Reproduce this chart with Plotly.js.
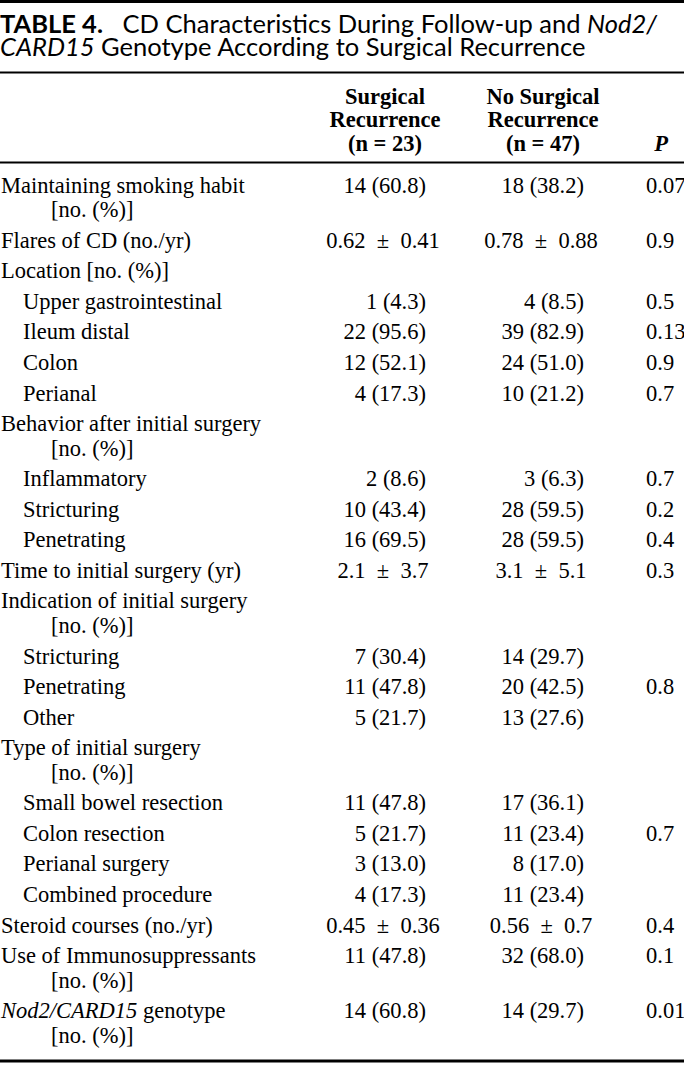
<!DOCTYPE html>
<html>
<head>
<meta charset="utf-8">
<script src="https://cdn.plot.ly/plotly-3.0.1.min.js"></script>
<style>html,body{margin:0;padding:0;background:#fff;}#chart{width:684px;height:1065px;}</style>
</head>
<body>
<div id="chart"></div>
<script>
// ---- table content ----
const titleLines = [
  "<b>TABLE 4.</b>\u00A0\u00A0\u00A0CD Characteristics During Follow-up and <i>Nod2/</i>",
  "<i>CARD15</i> Genotype According to Surgical Recurrence"
];
const headSurgical = ["<b>Surgical</b>", "<b>Recurrence</b>", "<b>(n = 23)</b>"];
const headNoSurgical = ["<b>No Surgical</b>", "<b>Recurrence</b>", "<b>(n = 47)</b>"];
const headP = ["", "", "<b><i>P</i></b>"];

const rowLabels = [
  "Maintaining smoking habit",
  "Flares of CD (no./yr)",
  "Location [no. (%)]",
  "Upper gastrointestinal",
  "Ileum distal",
  "Colon",
  "Perianal",
  "Behavior after initial surgery",
  "Inflammatory",
  "Stricturing",
  "Penetrating",
  "Time to initial surgery (yr)",
  "Indication of initial surgery",
  "Stricturing",
  "Penetrating",
  "Other",
  "Type of initial surgery",
  "Small bowel resection",
  "Colon resection",
  "Perianal surgery",
  "Combined procedure",
  "Steroid courses (no./yr)",
  "Use of Immunosuppressants",
  "<i>Nod2/CARD15</i> genotype"
];
const rowNotes = [
  "[no. (%)]", "", "", "", "", "", "", "[no. (%)]", "", "", "", "",
  "[no. (%)]", "", "", "", "[no. (%)]", "", "", "", "", "", "[no. (%)]", "[no. (%)]"
];
const rowIndent = [0,0,0,1,1,1,1,0,1,1,1,0,0,1,1,1,0,1,1,1,1,0,0,0];
const surgical = [
  "14 (60.8)", "0.62 ± 0.41", "", "1 (4.3)", "22 (95.6)", "12 (52.1)", "4 (17.3)", "",
  "2 (8.6)", "10 (43.4)", "16 (69.5)", "2.1 ± 3.7", "", "7 (30.4)", "11 (47.8)", "5 (21.7)",
  "", "11 (47.8)", "5 (21.7)", "3 (13.0)", "4 (17.3)", "0.45 ± 0.36", "11 (47.8)", "14 (60.8)"
];
const noSurgical = [
  "18 (38.2)", "0.78 ± 0.88", "", "4 (8.5)", "39 (82.9)", "24 (51.0)", "10 (21.2)", "",
  "3 (6.3)", "28 (59.5)", "28 (59.5)", "3.1 ± 5.1", "", "14 (29.7)", "20 (42.5)", "13 (27.6)",
  "", "17 (36.1)", "11 (23.4)", "8 (17.0)", "11 (23.4)", "0.56 ± 0.7", "32 (68.0)", "14 (29.7)"
];
const pValues = [
  "0.07", "0.9", "", "0.5", "0.13", "0.9", "0.7", "",
  "0.7", "0.2", "0.4", "0.3", "", "", "0.8", "",
  "", "", "0.7", "", "", "0.4", "0.1", "0.01"
];

// ---- layout geometry (pixels) ----
const W = 684, H = 1065;
const firstRowY = 187, rowStep = 30.55, noteStep = 24.6;
const labelX = [1, 23], noteX = 51;
const col1Right = 426, col1Center = 383;
const col2Right = 584, col2Center = 541;
const pLeft = 646;
const headY = [98, 121.5, 145];
const headX = [385, 543, 661];

const rowY = [];
let cur = firstRowY;
for (let i = 0; i < rowLabels.length; i++) {
  rowY.push(cur);
  cur += rowStep + (rowNotes[i] ? noteStep : 0);
}

const bodyFont = {family: "'Liberation Serif', 'Times New Roman', serif", size: 22.5, color: "#000"};

const traces = [];
// labels
traces.push({
  type: "scatter", mode: "text",
  x: rowLabels.map((_, i) => labelX[rowIndent[i]]),
  y: rowY, text: rowLabels, textposition: "middle right",
  textfont: bodyFont, hoverinfo: "skip", showlegend: false, cliponaxis: false
});
// second lines of labels
const nIdx = rowNotes.map((n, i) => n ? i : -1).filter(i => i >= 0);
traces.push({
  type: "scatter", mode: "text",
  x: nIdx.map(() => noteX), y: nIdx.map(i => rowY[i] + noteStep),
  text: nIdx.map(i => rowNotes[i]), textposition: "middle right",
  textfont: bodyFont, hoverinfo: "skip", showlegend: false, cliponaxis: false
});
// value columns
function valueTrace(vals, right, center) {
  const isPM = vals.map(v => v.indexOf("±") >= 0);
  return {
    type: "scatter", mode: "text",
    x: vals.map((v, i) => isPM[i] ? center : right),
    y: rowY,
    text: vals.map(v => v.replace(" ± ", "\u2002±\u2002")),
    textposition: vals.map((v, i) => isPM[i] ? "middle center" : "middle left"),
    textfont: bodyFont, hoverinfo: "skip", showlegend: false, cliponaxis: false
  };
}
traces.push(valueTrace(surgical, col1Right, col1Center));
traces.push(valueTrace(noSurgical, col2Right, col2Center));
traces.push({
  type: "scatter", mode: "text",
  x: pValues.map(() => pLeft), y: rowY, text: pValues, textposition: "middle right",
  textfont: bodyFont, hoverinfo: "skip", showlegend: false, cliponaxis: false
});
// header
[headSurgical, headNoSurgical, headP].forEach((col, c) => {
  traces.push({
    type: "scatter", mode: "text",
    x: col.map(() => headX[c]), y: headY, text: col, textposition: "middle center",
    textfont: bodyFont, hoverinfo: "skip", showlegend: false, cliponaxis: false
  });
});
// title lines
traces.push({
  type: "scatter", mode: "text",
  x: titleLines.map(() => 0), y: [27, 50], text: titleLines, textposition: "middle right",
  textfont: {family: "Lato, 'Open Sans', sans-serif", size: 25.5, color: "#000"},
  hoverinfo: "skip", showlegend: false, cliponaxis: false
});

function rule(y, w) {
  return {type: "line", xref: "paper", yref: "y", x0: 0, x1: 1, y0: y, y1: y,
          line: {color: "#000", width: w}};
}

const layout = {
  width: W, height: H,
  margin: {l: 0, r: 0, t: 0, b: 0, pad: 0},
  paper_bgcolor: "#fff", plot_bgcolor: "#fff",
  xaxis: {range: [0, W], visible: false, fixedrange: true},
  yaxis: {range: [H, 0], visible: false, fixedrange: true},
  showlegend: false,
  shapes: [rule(1.5, 3), rule(72.5, 2), rule(162.5, 2), rule(1061, 3)]
};

Plotly.newPlot("chart", traces, layout, {staticPlot: true, displayModeBar: false});
</script>
</body>
</html>
